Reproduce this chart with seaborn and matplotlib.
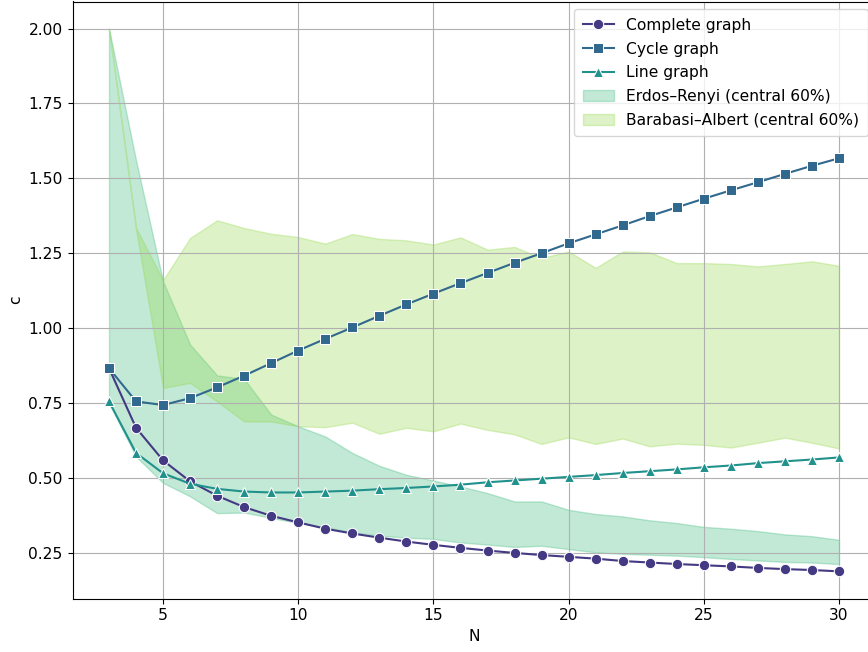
import numpy as np
import seaborn as sns
import matplotlib.pyplot as plt

# graph sizes
N = list(range(3, 31))

# values
complete = [0.866, 0.667, 0.558, 0.488, 0.440, 0.402, 0.373, 0.351, 0.330, 0.314,
            0.300, 0.287, 0.276, 0.266, 0.257, 0.249, 0.242, 0.236, 0.230, 0.222,
            0.217, 0.212, 0.208, 0.204, 0.199, 0.195, 0.192, 0.1875]
cycle = [0.866, 0.755, 0.743, 0.766, 0.802, 0.841, 0.883, 0.925, 0.964, 1.002,
         1.041, 1.079, 1.115, 1.150, 1.184, 1.218, 1.250, 1.283, 1.313, 1.343,
         1.374, 1.403, 1.432, 1.460, 1.487, 1.515, 1.542, 1.567]
line = [0.755, 0.583, 0.515, 0.480, 0.463, 0.454, 0.451, 0.451, 0.454, 0.457,
        0.462, 0.466, 0.471, 0.477, 0.485, 0.491, 0.497, 0.503, 0.509, 0.516,
        0.522, 0.528, 0.535, 0.541, 0.549, 0.555, 0.561, 0.568]

# central 60% bands of the random graph models
er_low = [0.75, 0.571, 0.483, 0.438, 0.382, 0.384, 0.366, 0.349, 0.335, 0.318,
          0.307, 0.300, 0.296, 0.284, 0.277, 0.269, 0.273, 0.262, 0.251, 0.246,
          0.243, 0.240, 0.235, 0.229, 0.224, 0.219, 0.217, 0.212]
er_high = [2.0, 1.56, 1.156, 0.945, 0.842, 0.830, 0.711, 0.672, 0.638, 0.583,
           0.540, 0.510, 0.491, 0.471, 0.449, 0.421, 0.421, 0.393, 0.379, 0.371,
           0.358, 0.349, 0.336, 0.330, 0.322, 0.311, 0.305, 0.293]
ba_low = [2.0, 1.33, 0.80, 0.817, 0.755, 0.688, 0.688, 0.672, 0.669, 0.684,
          0.647, 0.667, 0.655, 0.681, 0.660, 0.645, 0.613, 0.635, 0.613, 0.631,
          0.605, 0.614, 0.610, 0.601, 0.617, 0.634, 0.617, 0.598]
ba_high = [2.0, 1.335, 1.16, 1.301, 1.360, 1.334, 1.315, 1.304, 1.282, 1.314,
           1.298, 1.293, 1.279, 1.303, 1.262, 1.271, 1.234, 1.256, 1.201, 1.256,
           1.253, 1.217, 1.217, 1.214, 1.206, 1.214, 1.223, 1.208]

colors = sns.color_palette('viridis', 5)
plt.rcParams['font.size'] = 11.2

fig = plt.figure(figsize=(8.68, 6.52), dpi=100)
# axes run a bit past the right edge, like the cropped original
ax = fig.add_axes([72.5 / 868, 53.5 / 652, 803 / 868, 597 / 652])

sns.lineplot(x=N, y=complete, marker='o', markersize=7.5, color=colors[0], label='Complete graph', ax=ax)
sns.lineplot(x=N, y=cycle, marker='s', markersize=7.5, color=colors[1], label='Cycle graph', ax=ax)
sns.lineplot(x=N, y=line, marker='^', markersize=7.5, color=colors[2], label='Line graph', ax=ax)

ax.fill_between(N, er_low, er_high, color=colors[3], alpha=0.3, label='Erdos\u2013Renyi (central 60%)')
ax.fill_between(N, ba_low, ba_high, color=colors[4], alpha=0.3, label='Barabasi\u2013Albert (central 60%)')

ax.set_xlabel('N')
ax.set_ylabel('c')
ax.grid(True)
ax.legend(loc='upper right', labelspacing=0.56, borderpad=0.55)

plt.savefig('out.png', dpi=100)
